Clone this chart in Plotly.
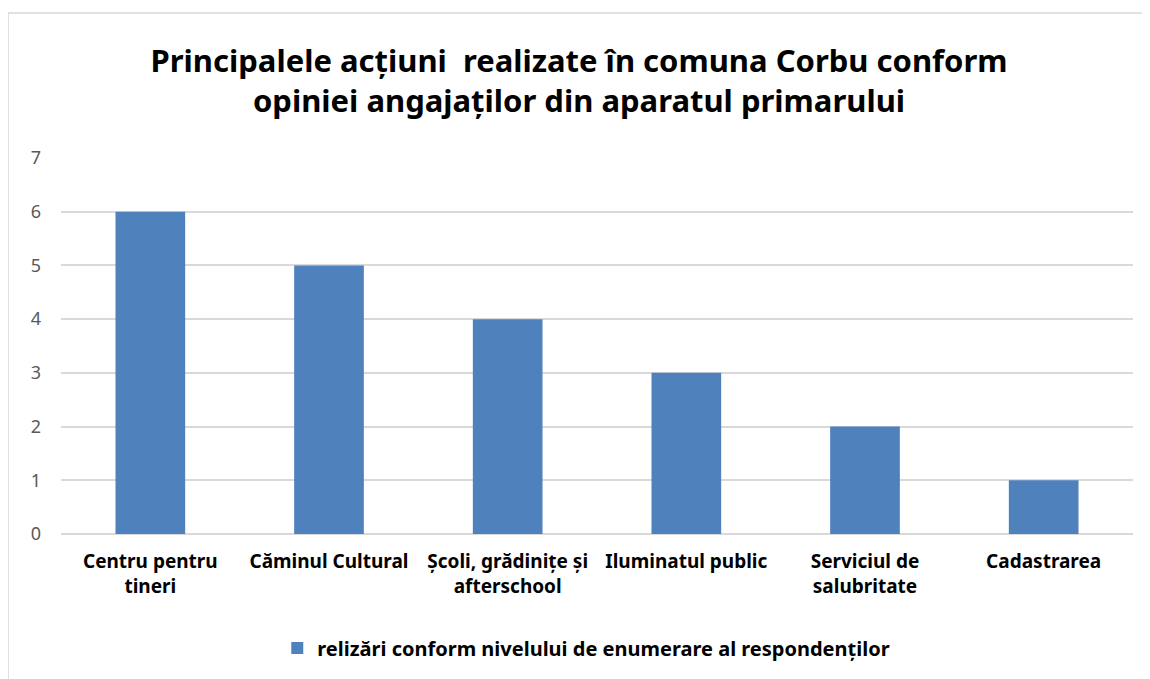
import plotly.graph_objects as go

# --- datos ---
categorias = [
    "Centru pentru<br>tineri",
    "Căminul Cultural",
    "Școli, grădinițe și<br>afterschool",
    "Iluminatul public",
    "Serviciul de<br>salubritate",
    "Cadastrarea",
]
valores = [6, 5, 4, 3, 2, 1]
serie = "relizări conform nivelului de enumerare al respondenților"
titulo = "Principalele acțiuni  realizate în comuna Corbu conform<br>opiniei angajaților din aparatul primarului"

fig = go.Figure()
fig.add_trace(go.Bar(
    x=categorias, y=valores, name=f"<b>{serie}</b>",
    marker=dict(color="#4F81BD", line=dict(width=0)),
    showlegend=True,
))

# la página tiene 8px de margen en el body, por eso el tamaño es 1142x671
fig.update_layout(
    width=1142, height=671,
    font=dict(family="Noto Sans", color="#000000"),
    title=dict(text=f"<b>{titulo}</b>", x=0.5, xanchor="center", y=0.905, yanchor="middle",
               font=dict(size=31, color="#000000", lineposition="none")),
    plot_bgcolor="white", paper_bgcolor="white",
    margin=dict(l=53, r=17, t=150, b=145),
    bargap=0.61,
    showlegend=True,
    legend=dict(orientation="h", x=0.49, xanchor="center", y=-0.303, yanchor="middle",
                font=dict(size=20, color="#000000"), itemwidth=30),
)

fig.update_yaxes(range=[0, 7], dtick=1, showgrid=True, gridcolor="#D9D9D9", gridwidth=1.5,
                 zeroline=True, zerolinecolor="#D9D9D9", zerolinewidth=1.5,
                 tickfont=dict(size=18, color="#595959"), ticks="", ticklabelstandoff=19,
                 showline=False)
fig.update_xaxes(tickfont=dict(size=19, color="#000000"), showline=False, ticks="",
                 tickprefix="<b>", ticksuffix="</b>", ticklabelstandoff=14)

# borde del área del gráfico
fig.add_shape(type="rect", xref="paper", yref="paper",
              x0=-0.0494, x1=1.1, y0=-0.5, y1=1.3856,
              line=dict(color="#D9D9D9", width=1.5), fillcolor="rgba(0,0,0,0)", layer="below")

fig.write_html("out.html")
